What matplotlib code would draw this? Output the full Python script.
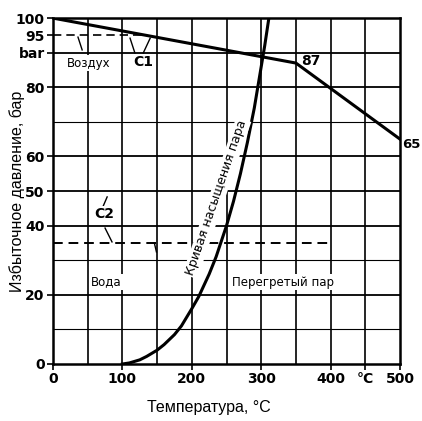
import matplotlib
matplotlib.use("Agg")
import matplotlib.pyplot as plt

plt.rcParams["font.family"] = ["DejaVu Sans"]

# Air line (bar vs °C)
air_t = [0, 350, 500]
air_p = [100, 87, 65]

# Saturation curve of water vapour
sat_t = [100, 110, 125, 135, 150, 160, 175, 185, 200, 210, 225, 235,
         250, 260, 270, 280, 290, 300, 305, 311]
sat_p = [0, 0.3, 1.2, 2.2, 4, 5.6, 8.5, 11, 16, 19.5, 26, 31,
         40, 47, 55, 64, 74, 86, 92, 100]

# Dashed reference levels
c1_level = 95
c1_end = 134.6
c2_level = 35
c2_end = 400

x_ticks = [0, 100, 200, 300, 400, 450, 500]
x_labels = ["0", "100", "200", "300", "400", "°C", "500"]
y_ticks = [0, 20, 40, 50, 60, 80, 90, 95, 100]
y_labels = ["0", "20", "40", "50", "60", "80", "bar", "95", "100"]

tick_font = dict(family="DejaVu Sans", weight="bold", size=10)

fig = plt.figure(figsize=(4.22, 4.21), dpi=100)
ax = fig.add_axes([0.1256, 0.1354, 0.8224, 0.8216])

# grid
for t in range(50, 500, 50):
    ax.axvline(t, color="black", lw=1.2, zorder=1)
for p in range(10, 100, 10):
    lw = 0.8 if p in (10, 30, 70) else 1.3
    ax.axhline(p, color="black", lw=lw, zorder=1)

ax.plot(air_t, air_p, color="black", lw=2.2, zorder=3)
ax.plot(sat_t, sat_p, color="black", lw=2.2, zorder=3)
ax.plot([0, c1_end], [c1_level, c1_level], color="black", lw=1.2,
        ls=(0, (5, 3)), zorder=2)
ax.plot([0, c2_end], [c2_level, c2_level], color="black", lw=1.4,
        ls=(0, (5, 3)), zorder=2)

# C1 / C2 pointers
ax.plot([111, 118], [94.2, 89.9], color="black", lw=1)
ax.plot([140, 130], [94.2, 89.9], color="black", lw=1)
ax.plot([36, 42], [94.5, 90.8], color="black", lw=1)
ax.plot([75, 85], [39.3, 35.3], color="black", lw=1)
ax.plot([78, 72], [48.3, 45.5], color="black", lw=1)
ax.plot([146, 149], [35, 32.4], color="black", lw=1)

box = dict(facecolor="white", edgecolor="none", pad=1)
small = dict(family="DejaVu Sans", size=8.5)
ax.text(20, 87, "Воздух", va="center", ha="left", bbox=box, zorder=4, **small)
ax.text(116, 87.2, "C1", va="center", ha="left", bbox=box, zorder=4, **tick_font)
ax.text(60, 43.3, "C2", va="center", ha="left", bbox=box, zorder=4, **tick_font)
ax.text(55, 23.7, "Вода", va="center", ha="left", bbox=box, zorder=4, **small)
ax.text(258, 23.7, "Перегретый пар", va="center", ha="left",
        bbox=box, zorder=4, **small)
ax.text(357, 87.5, "87", va="center", ha="left", zorder=4, **tick_font)
ax.text(503, 63.5, "65", va="center", ha="left", clip_on=False,
        family="DejaVu Sans", weight="bold", size=9.5)
ax.text(236, 48, "Кривая насыщения пара", rotation=71,
        va="center", ha="center", bbox=box, zorder=4,
        family="DejaVu Sans", size=9)

ax.set_xlim(0, 500)
ax.set_ylim(0, 100)
ax.set_xticks(x_ticks)
ax.set_xticklabels(x_labels, fontdict=tick_font)
ax.set_yticks(y_ticks)
ax.set_yticklabels(y_labels, fontdict=tick_font)
ax.tick_params(length=4, width=1.2, pad=2)
for s in ax.spines.values():
    s.set_linewidth(1.8)

ax.set_xlabel("Температура, °C", fontsize=11.5, family="Liberation Sans")
ax.xaxis.set_label_coords(0.45, -0.105)
ax.set_ylabel("Избыточное давление, бар", fontsize=11.5, family="Liberation Sans")
ax.yaxis.set_label_coords(-0.08, 0.5)

fig.savefig("out.png", dpi=100)
